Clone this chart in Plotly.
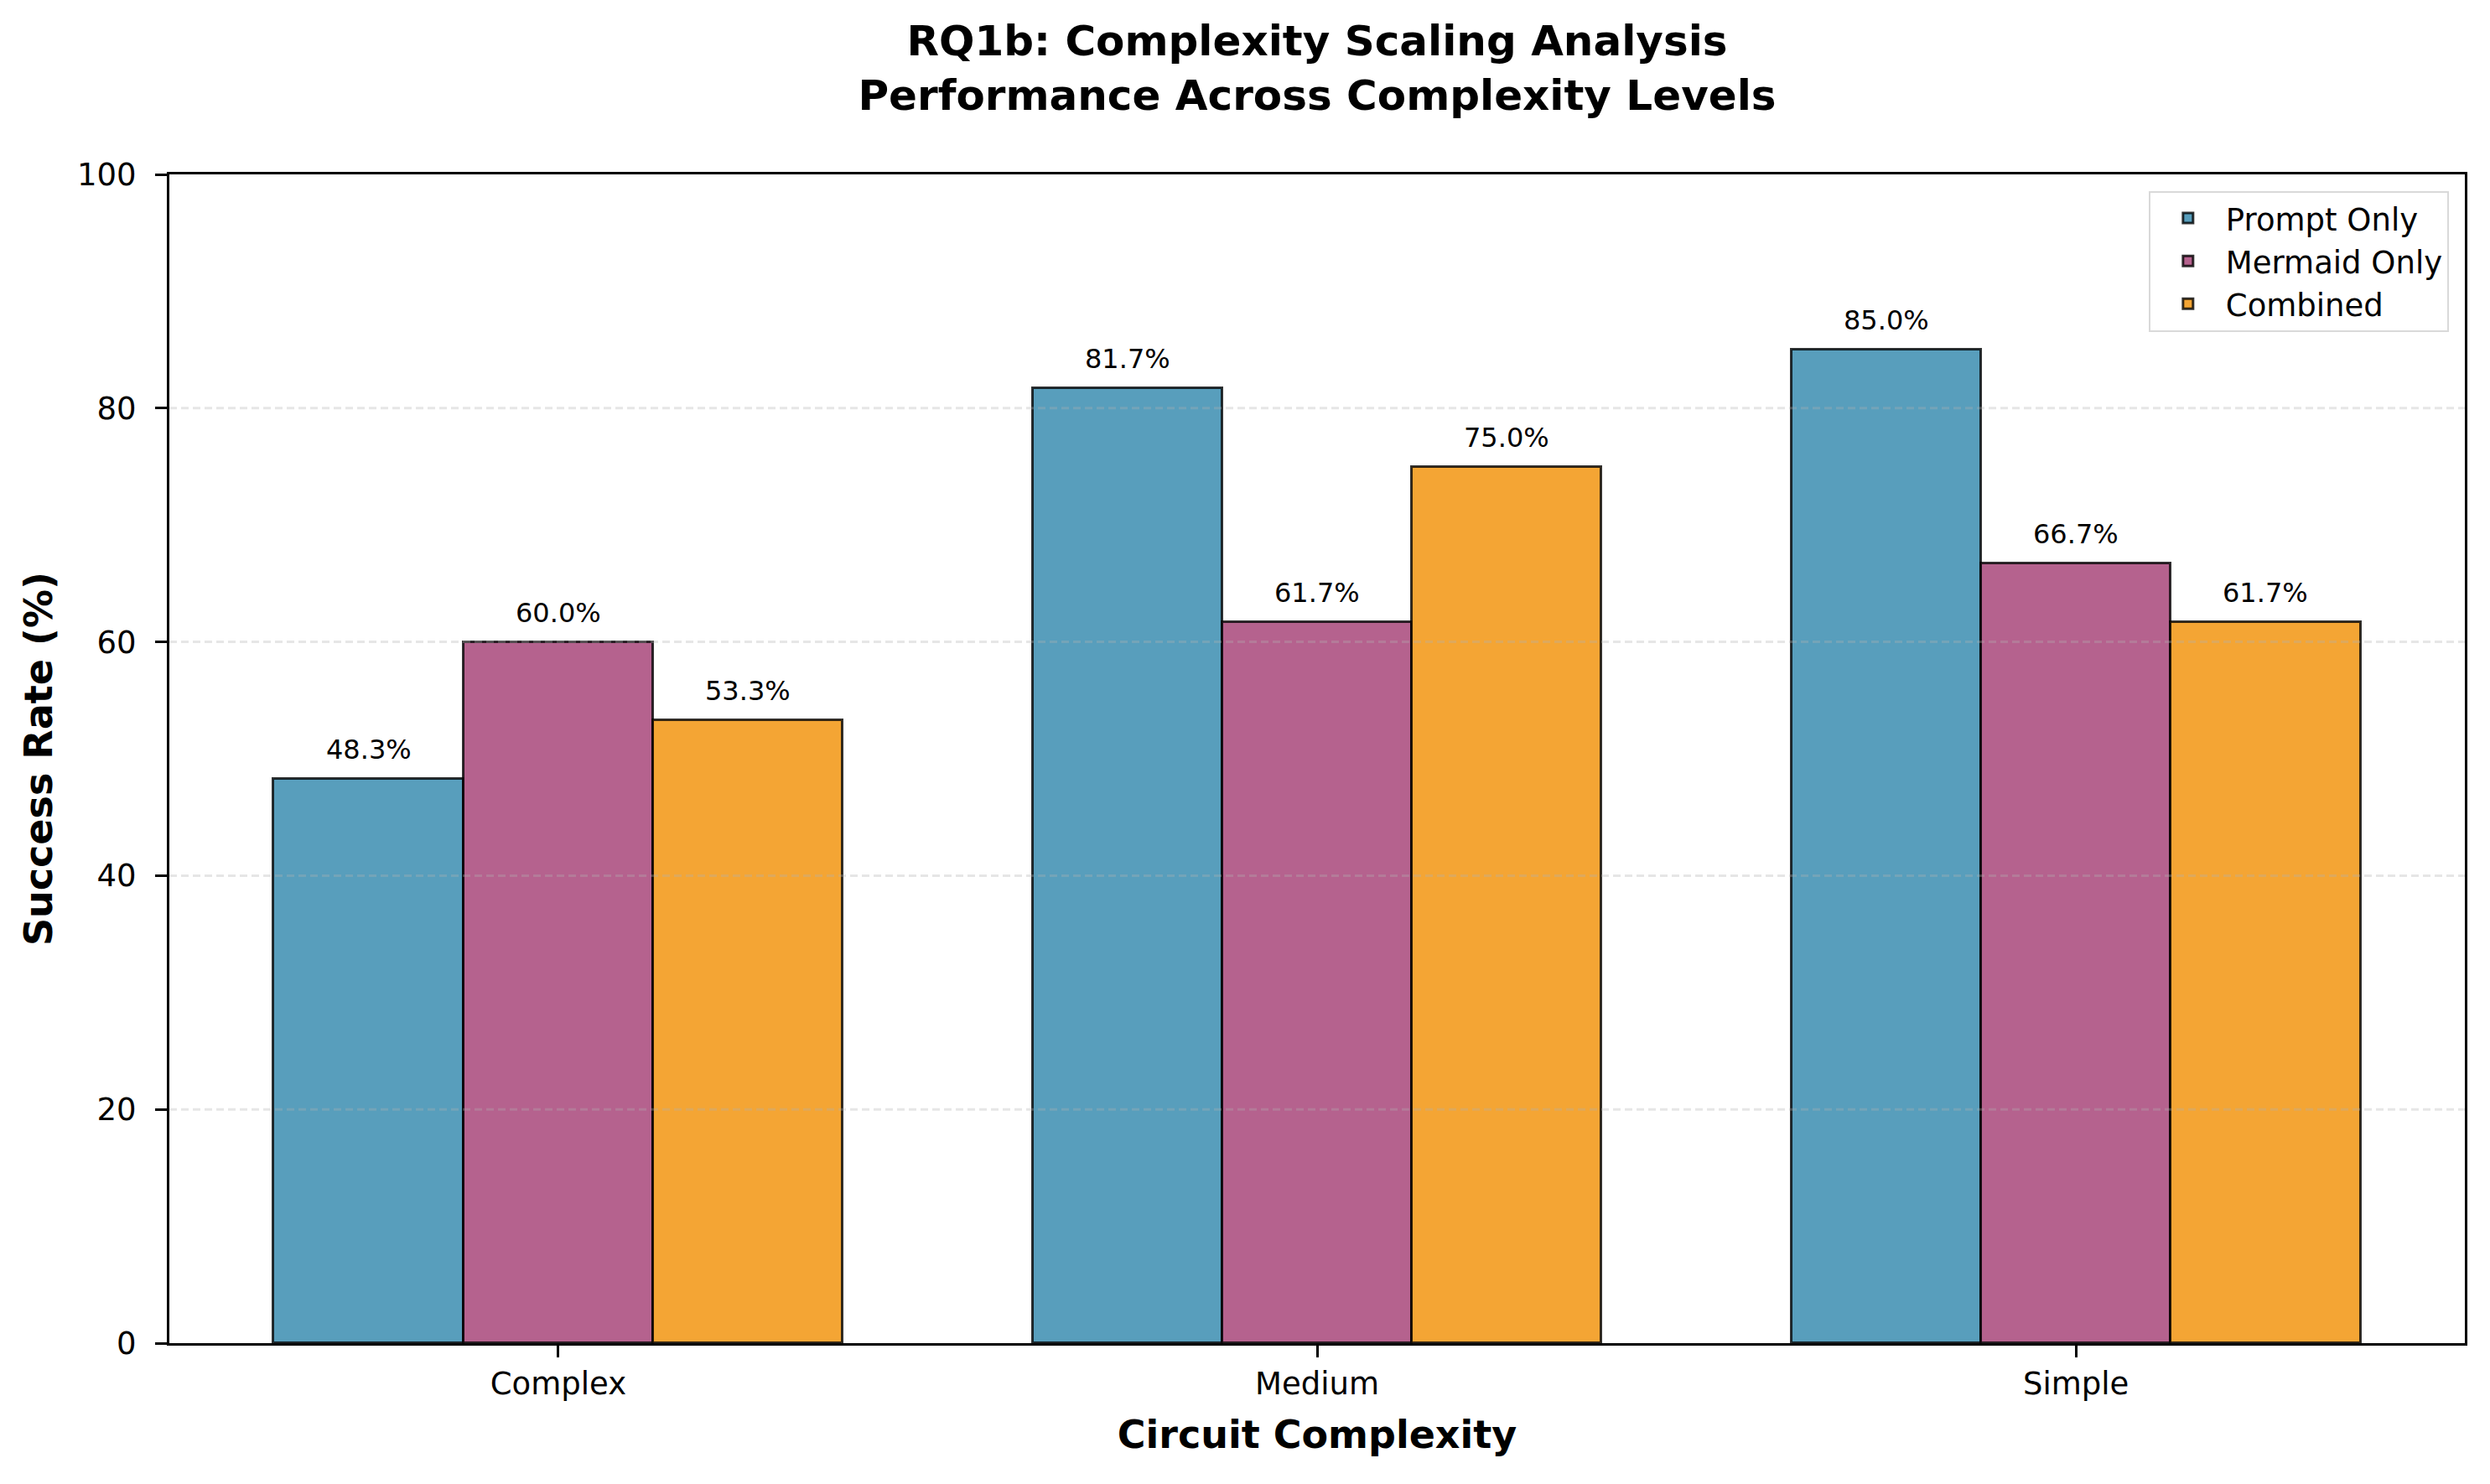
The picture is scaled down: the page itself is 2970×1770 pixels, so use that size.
import plotly.graph_objects as go

categories = ["Complex", "Medium", "Simple"]
prompt_only = [48.3, 81.7, 85.0]
mermaid_only = [60.0, 61.7, 66.7]
combined = [53.3, 75.0, 61.7]
y_ticks = [0, 20, 40, 60, 80, 100]

series = [
    ("Prompt Only", prompt_only, "rgba(46,134,171,0.8)"),
    ("Mermaid Only", mermaid_only, "rgba(162,59,114,0.8)"),
    ("Combined", combined, "rgba(241,143,1,0.8)"),
]

FONT = "DejaVu Sans"
width = 0.25


def main():
    fig = go.Figure()
    positions = list(range(len(categories)))

    for k, (name, values, color) in enumerate(series):
        offset = (k - 1) * width
        xs = [p + offset for p in positions]
        fig.add_trace(go.Bar(
            x=xs, y=values, width=width, name=name,
            marker=dict(color=color, line=dict(color="rgba(0,0,0,0.8)", width=3)),
        ))
        for x, v in zip(xs, values):
            fig.add_annotation(
                x=x, y=v + 1, text=f"{v:.1f}%", showarrow=False,
                yanchor="bottom", xanchor="center",
                font=dict(family=FONT, size=32, color="black"),
            )

    # grid drawn over the bars like matplotlib does
    for t in y_ticks[1:-1]:
        fig.add_shape(
            type="line", xref="paper", x0=0, x1=1, yref="y", y0=t, y1=t,
            line=dict(color="rgba(176,176,176,0.32)", width=3, dash="9px,5px"),
            layer="above",
        )

    # page body has a small default margin, so margins are nudged to compensate
    fig.update_layout(
        width=2970, height=1770,
        margin=dict(l=194, r=38, t=200, b=176),
        paper_bgcolor="white", plot_bgcolor="white",
        font=dict(family=FONT, size=37, color="black"),
        title=dict(
            text="<b>RQ1b: Complexity Scaling Analysis<br>Performance Across Complexity Levels</b>",
            x=0.5, xref="paper", xanchor="center",
            y=1 - 58 / 1770, yref="container", yanchor="middle",
            font=dict(family=FONT, size=50, color="black"),
        ),
        legend=dict(
            x=0.993, y=0.986, xanchor="right", yanchor="top",
            bordercolor="#d9d9d9", borderwidth=2, bgcolor="rgba(255,255,255,0.8)",
            font=dict(family=FONT, size=37),
            itemwidth=80,
        ),
        showlegend=True,
        bargap=0,
    )

    fig.update_xaxes(
        range=[-0.5125, 2.5125],
        tickvals=positions, ticktext=categories,
        showgrid=False, zeroline=False,
        showline=True, linecolor="black", linewidth=3, mirror=True,
        ticks="outside", ticklen=14, tickwidth=3, tickcolor="black",
        tickfont=dict(family=FONT, size=37),
        title=dict(text="<b>Circuit Complexity</b>", font=dict(family=FONT, size=46), standoff=24),
    )
    fig.update_yaxes(
        range=[0, 100], tickvals=y_ticks,
        showgrid=False, zeroline=False,
        showline=True, linecolor="black", linewidth=3, mirror=True,
        ticks="outside", ticklen=14, tickwidth=3, tickcolor="black",
        tickfont=dict(family=FONT, size=37),
        ticklabelstandoff=15,
        title=dict(text="<b>Success Rate (%)</b>", font=dict(family=FONT, size=46), standoff=15),
    )

    fig.write_html("out.html")


if __name__ == "__main__":
    main()
